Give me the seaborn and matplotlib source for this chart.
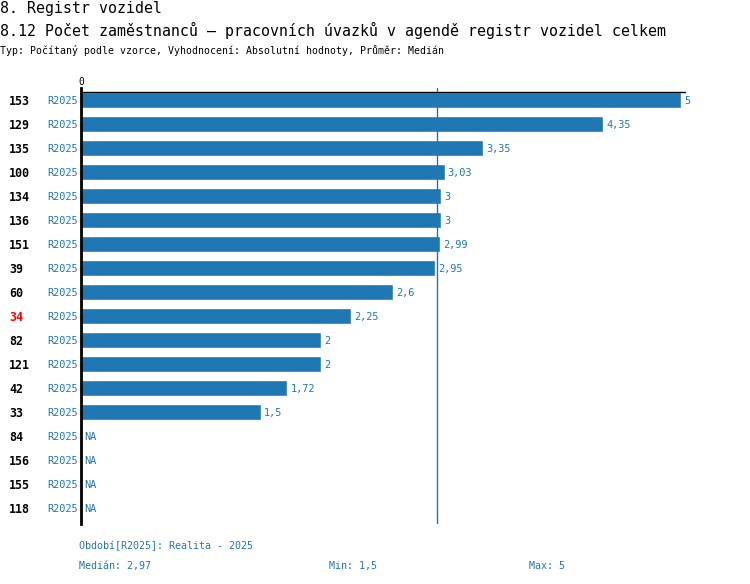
import numpy as np
import pandas as pd
import matplotlib
matplotlib.use("Agg")
import matplotlib.pyplot as plt
import matplotlib.transforms as mtransforms
import seaborn as sns

codes = ["153", "129", "135", "100", "134", "136", "151", "39", "60", "34",
         "82", "121", "42", "33", "84", "156", "155", "118"]
values = [5, 4.35, 3.35, 3.03, 3, 3, 2.99, 2.95, 2.6, 2.25,
          2, 2, 1.72, 1.5, np.nan, np.nan, np.nan, np.nan]
period = "R2025"
highlight = "34"

title1 = "8. Registr vozidel"
title2 = "8.12 Počet zaměstnanců – pracovních úvazků v agendě registr vozidel celkem"
subtitle = "Typ: Počítaný podle vzorce, Vyhodnocení: Absolutní hodnoty, Průměr: Medián"
period_note = "Období[R2025]: Realita - 2025"

BLUE = "#1f77b4"

sns.set_style("white")
plt.rcParams["font.family"] = ["DejaVu Sans Mono", "DejaVu Sans"]

def fmt(v):
    return f"{v:g}".replace(".", ",")

df = pd.DataFrame({"code": codes, "value": values})
W, H = 750, 584
fig = plt.figure(figsize=(W / 100, H / 100), dpi=100)
fig.patch.set_facecolor("white")

ax_left, ax_right, ax_top, ax_bot = 81, 686, 88, 524
ax = fig.add_axes([ax_left / W, 1 - ax_bot / H, (ax_right - ax_left) / W, (ax_bot - ax_top) / H])

sns.barplot(data=df.dropna(), x="value", y="code", order=codes, color=BLUE,
            saturation=1, width=2 / 3, ax=ax, orient="h")

px_per_unit = 120.0
ax.set_xlim(0, (ax_right - ax_left) / px_per_unit)
ax.set_ylim(len(codes) - 1 + 0.667, -0.5)
ax.set_xlabel("")
ax.set_ylabel("")
ax.tick_params(left=False, labelleft=False, bottom=False, labelbottom=False)
for s in ["top", "right", "bottom"]:
    ax.spines[s].set_visible(False)
ax.spines["left"].set_color("black")
ax.spines["left"].set_linewidth(2)
ax.set_facecolor("white")

vals = np.array(values, dtype=float)
med = np.nanmedian(vals)
vmin = np.nanmin(vals)
vmax = np.nanmax(vals)

ax.axvline(med, color=BLUE, lw=1, zorder=3)
ax.axhline(-1 / 3, color="black", lw=1, zorder=4)

off = mtransforms.offset_copy(ax.transData, fig=fig, x=3, y=-1, units="dots")
for i, v in enumerate(values):
    if np.isnan(v):
        ax.text(0, i, "NA", transform=off, color=BLUE, fontsize=7.4, va="center", ha="left")
    else:
        ax.text(v, i, fmt(v), transform=off, color=BLUE, fontsize=7.4, va="center", ha="left")

ax.text(0, -0.5, "0", transform=mtransforms.offset_copy(ax.transData, fig=fig, x=0, y=1, units="dots"),
        ha="center", va="bottom", fontsize=7, color="black", clip_on=False)

blend = mtransforms.blended_transform_factory(fig.transFigure, ax.transData)
blend_off = mtransforms.offset_copy(blend, fig=fig, x=0, y=-1.5, units="dots")
for i, c in enumerate(codes):
    fig.text(9 / W, i, c, transform=blend_off, fontsize=8.4, fontweight="bold",
             color="red" if c == highlight else "black", va="center", ha="left")
    fig.text(78 / W, i, period, transform=blend_off, fontsize=7.4, color=BLUE,
             va="center", ha="right")

fig.text(0 / W, 1 - 8 / H, title1, fontsize=10.7, color="black", va="center", ha="left")
fig.text(0 / W, 1 - 30 / H, title2, fontsize=10.7, color="black", va="center", ha="left")
fig.text(0 / W, 1 - 50 / H, subtitle, fontsize=7.1, color="black", va="center", ha="left")

fig.text(79 / W, 1 - 546 / H, period_note, fontsize=7.2, color=BLUE, va="center", ha="left")
fig.text(79 / W, 1 - 566 / H, f"Medián: {fmt(round(med, 2))}", fontsize=7.2, color=BLUE, va="center", ha="left")
fig.text(329 / W, 1 - 566 / H, f"Min: {fmt(vmin)}", fontsize=7.2, color=BLUE, va="center", ha="left")
fig.text(529 / W, 1 - 566 / H, f"Max: {fmt(vmax)}", fontsize=7.2, color=BLUE, va="center", ha="left")

fig.savefig("out.png", dpi=100, facecolor="white")
